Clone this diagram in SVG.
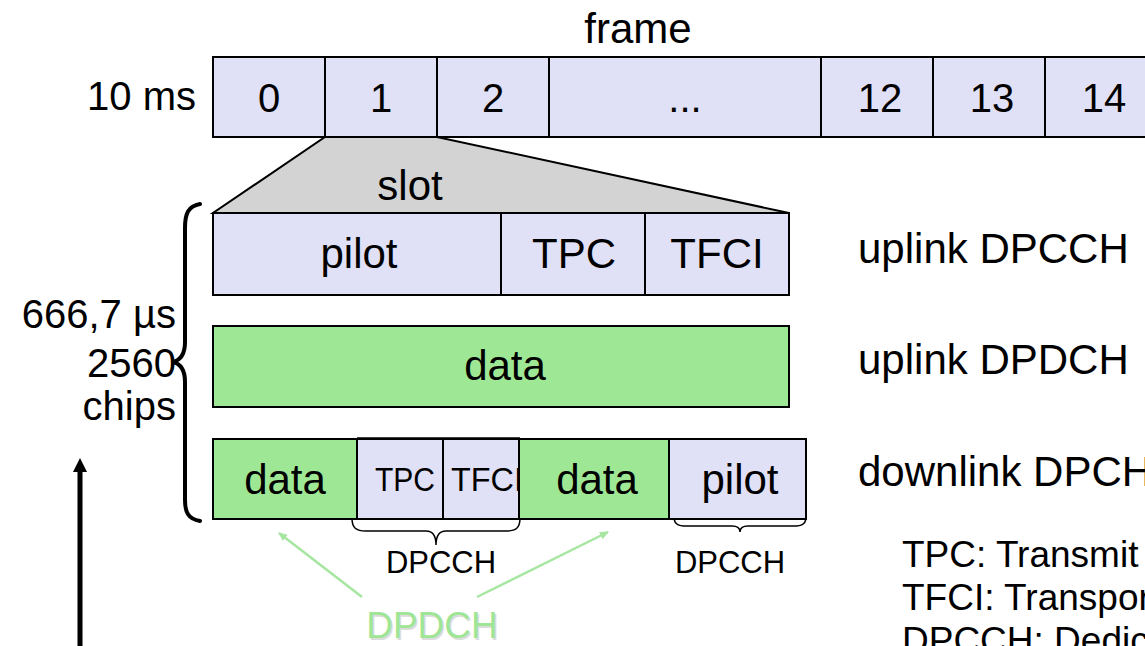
<svg xmlns="http://www.w3.org/2000/svg" width="1145" height="646" viewBox="0 0 1145 646">
<style>
text{font-family:"Liberation Sans",Arial,sans-serif;fill:#000}
.c{text-anchor:middle}
.lav{fill:#e0e0f6;stroke:#000;stroke-width:2}
.grn{fill:#9ee794;stroke:#000;stroke-width:2}
.t42{font-size:42px}
.t40{font-size:40px}
.t34{font-size:34px}
.t31{font-size:31px}
.t37{font-size:37px}
.brace{fill:none;stroke:#000;stroke-width:4;stroke-linecap:round}
.sbrace{fill:none;stroke:#000;stroke-width:1.5}
.garrow{stroke:#a6e6a0;stroke-width:2.5;fill:none}
</style>
<defs>
<marker id="ga" markerWidth="10" markerHeight="10" refX="8" refY="5" orient="auto" markerUnits="userSpaceOnUse">
<path d="M0,1 L9,5 L0,9 z" fill="#a6e6a0"/>
</marker>
<marker id="ba" markerWidth="16" markerHeight="16" refX="8" refY="8" orient="auto" markerUnits="userSpaceOnUse">
<path d="M0,1 L14,8 L0,15 z" fill="#000"/>
</marker>
</defs>

<g id="frame-label"><text class="t42 c" x="638" y="43">frame</text></g>
<g id="ms-label"><text class="t40" x="196" y="110" text-anchor="end">10 ms</text></g>

<g id="frame">
<rect class="lav" x="213" y="57" width="112" height="80"/>
<rect class="lav" x="325" y="57" width="112" height="80"/>
<rect class="lav" x="437" y="57" width="112" height="80"/>
<rect class="lav" x="549" y="57" width="272" height="80"/>
<rect class="lav" x="821" y="57" width="112" height="80"/>
<rect class="lav" x="933" y="57" width="112" height="80"/>
<rect class="lav" x="1045" y="57" width="112" height="80"/>
<text class="t40 c" x="269" y="112">0</text>
<text class="t40 c" x="381" y="112">1</text>
<text class="t40 c" x="493" y="112">2</text>
<text class="t40 c" x="685" y="112">...</text>
<text class="t40 c" x="880" y="112">12</text>
<text class="t40 c" x="992" y="112">13</text>
<text class="t40 c" x="1104" y="112">14</text>
</g>

<g id="slot">
<polygon points="325,137 437,137 789,213 213,213" fill="#d3d3d3" stroke="#000" stroke-width="2"/>
<text class="t42 c" x="410" y="200">slot</text>
</g>

<g id="uplink-dpcch">
<rect class="lav" x="213" y="213" width="288" height="82" stroke-width="2.5"/>
<rect class="lav" x="501" y="213" width="144" height="82" stroke-width="2.5"/>
<rect class="lav" x="645" y="213" width="144" height="82" stroke-width="2.5"/>
<text class="t42 c" x="359" y="268">pilot</text>
<text class="t42 c" x="574" y="268">TPC</text>
<text class="t42 c" x="717" y="268">TFCI</text>
</g>

<g id="uplink-dpdch">
<rect class="grn" x="213" y="326" width="576" height="81" stroke-width="2.5"/>
<text class="t42 c" x="505" y="380">data</text>
</g>

<g id="downlink-dpch">
<rect class="grn" x="213" y="439" width="144" height="80"/>
<rect class="lav" x="357" y="439" width="86" height="80"/>
<rect class="lav" x="443" y="439" width="76" height="80"/>
<rect class="grn" x="519" y="439" width="150" height="80"/>
<rect class="lav" x="669" y="439" width="137" height="80"/>
<line x1="357" y1="438" x2="520" y2="438" stroke="#000" stroke-width="1.5"/>
<text class="t42 c" x="285" y="494">data</text>
<text class="t34" x="375" y="491" textLength="60" lengthAdjust="spacingAndGlyphs">TPC</text>
<svg x="443" y="439" width="76" height="80" overflow="hidden"><text class="t34" x="8" y="52" textLength="72" lengthAdjust="spacingAndGlyphs">TFCI</text></svg>
<text class="t42 c" x="597" y="494">data</text>
<text class="t42 c" x="740" y="494">pilot</text>
</g>

<g id="right-labels">
<text class="t42" x="858" y="263">uplink DPCCH</text>
<text class="t42" x="858" y="374">uplink DPDCH</text>
<text class="t42" x="858" y="486">downlink DPCH</text>
</g>

<g id="legend">
<text class="t37" x="902" y="567">TPC: Transmit Power Control</text>
<text class="t37" x="902" y="610">TFCI: Transport Format Combination Indicator</text>
<text class="t37" x="902" y="653">DPCCH: Dedicated Physical Control Channel</text>
</g>

<g id="slot-duration">
<text class="t40" x="176" y="328" text-anchor="end">666,7 µs</text>
<text class="t40" x="176" y="377" text-anchor="end">2560</text>
<text class="t40" x="176" y="420" text-anchor="end">chips</text>
</g>

<g id="dpcch-labels">
<text class="t31 c" x="441" y="573">DPCCH</text>
<text class="t31 c" x="730" y="573">DPCCH</text>
</g>

<g id="dpdch-label">
<text class="t37 c" x="433.5" y="639.5" style="fill:#dcdcdc">DPDCH</text>
<text class="t37 c" x="432" y="638" style="fill:#9fe596">DPDCH</text>
</g>

<g id="connectors">
<path class="brace" d="M200,204 C188,206 185,214 185,228 L185,342 C185,354 181,360 173,362 C181,364 185,370 185,382 L185,500 C185,512 188,519 200,521"/>
<path class="sbrace" d="M352,518 C352,528 356,531 366,531 L426,531 C432,531 436,535 436,545 C436,535 440,531 446,531 L506,531 C516,531 520,528 520,518"/>
<path class="sbrace" d="M674,519 C675,524 678,526 686,526 L732,526 C737,526 740,528 740,532 C740,528 743,526 748,526 L794,526 C802,526 805,524 806,519"/>
<line class="garrow" x1="362" y1="597" x2="279" y2="533" marker-end="url(#ga)"/>
<line class="garrow" x1="477" y1="597" x2="608" y2="532" marker-end="url(#ga)"/>
<line x1="80" y1="646" x2="80" y2="464" stroke="#000" stroke-width="5" marker-end="url(#ba)"/>
</g>
</svg>
